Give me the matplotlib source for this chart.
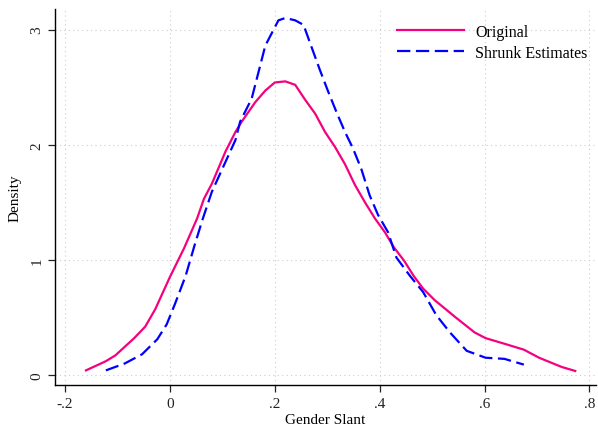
import matplotlib
matplotlib.use("Agg")
import matplotlib.pyplot as plt

orig_x = [-0.160, -0.122, -0.104, -0.068, -0.047, -0.028, 0.0, 0.027, 0.052, 0.065, 0.080, 0.106, 0.125, 0.137,
          0.163, 0.182, 0.200, 0.220, 0.239, 0.258, 0.277, 0.296, 0.315, 0.334, 0.353, 0.372, 0.391, 0.410,
          0.427, 0.447, 0.465, 0.483, 0.505, 0.545, 0.581, 0.602, 0.639, 0.675, 0.704, 0.747, 0.773]
orig_y = [0.04, 0.12, 0.17, 0.32, 0.42, 0.57, 0.85, 1.10, 1.36, 1.53, 1.66, 1.94, 2.11, 2.20,
          2.37, 2.47, 2.54, 2.55, 2.52, 2.39, 2.27, 2.11, 1.98, 1.83, 1.65, 1.50, 1.36, 1.24,
          1.11, 0.99, 0.86, 0.75, 0.65, 0.50, 0.37, 0.32, 0.27, 0.22, 0.15, 0.07, 0.035]

shrunk_x = [-0.122, -0.086, -0.053, -0.024, -0.006, 0.010, 0.030, 0.048, 0.063, 0.080, 0.106, 0.125, 0.134,
            0.156, 0.182, 0.207, 0.220, 0.239, 0.255, 0.270, 0.286, 0.302, 0.318, 0.334, 0.349, 0.365,
            0.381, 0.397, 0.416, 0.432, 0.458, 0.483, 0.508, 0.534, 0.566, 0.602, 0.638, 0.675]
shrunk_y = [0.04, 0.10, 0.18, 0.31, 0.44, 0.62, 0.86, 1.14, 1.36, 1.59, 1.85, 2.04, 2.20,
            2.40, 2.86, 3.08, 3.10, 3.08, 3.04, 2.85, 2.65, 2.46, 2.28, 2.11, 1.97, 1.79,
            1.56, 1.39, 1.24, 1.02, 0.86, 0.72, 0.52, 0.37, 0.21, 0.15, 0.14, 0.09]

xticks = [-0.2, 0.0, 0.2, 0.4, 0.6, 0.8]
xtick_labels = ["-.2", "0", ".2", ".4", ".6", ".8"]
yticks = [0, 1, 2, 3]
ytick_labels = ["0", "1", "2", "3"]

plt.rcParams['font.family'] = ['Liberation Serif', 'DejaVu Serif']

fig = plt.figure(figsize=(5.98, 4.27), dpi=100)
ax = fig.add_axes([0.092, 0.096, 0.905, 0.881])

ax.plot(orig_x, orig_y, color="#F5007F", lw=1.6, label="Original")
ax.plot(shrunk_x, shrunk_y, color="#0000FF", lw=1.6, dashes=(6, 2.5), label="Shrunk Estimates")

ax.set_xlim(-0.219, 0.813)
ax.set_ylim(-0.087, 3.18)
ax.set_xticks(xticks)
ax.set_xticklabels(xtick_labels)
ax.set_yticks(yticks)
ax.set_yticklabels(ytick_labels, rotation=90, va="center")

ax.grid(True, linestyle=(0, (1, 3)), color="#CCCCCC", lw=0.8)
ax.set_axisbelow(True)
for s in ["top", "right"]:
    ax.spines[s].set_visible(False)
ax.spines["left"].set_linewidth(1.0)
ax.spines["bottom"].set_linewidth(1.0)
ax.tick_params(direction="out", length=5, width=0.9, labelsize=11, colors="#222222")
ax.set_xlabel("Gender Slant", fontsize=11, labelpad=2)
ax.set_ylabel("Density", fontsize=11, labelpad=6)

ax.legend(loc="upper right", bbox_to_anchor=(1.011, 0.998), frameon=False, fontsize=11.5,
          handlelength=4.2, handletextpad=0.7, labelspacing=0.3)

fig.savefig("out.png", dpi=100)
